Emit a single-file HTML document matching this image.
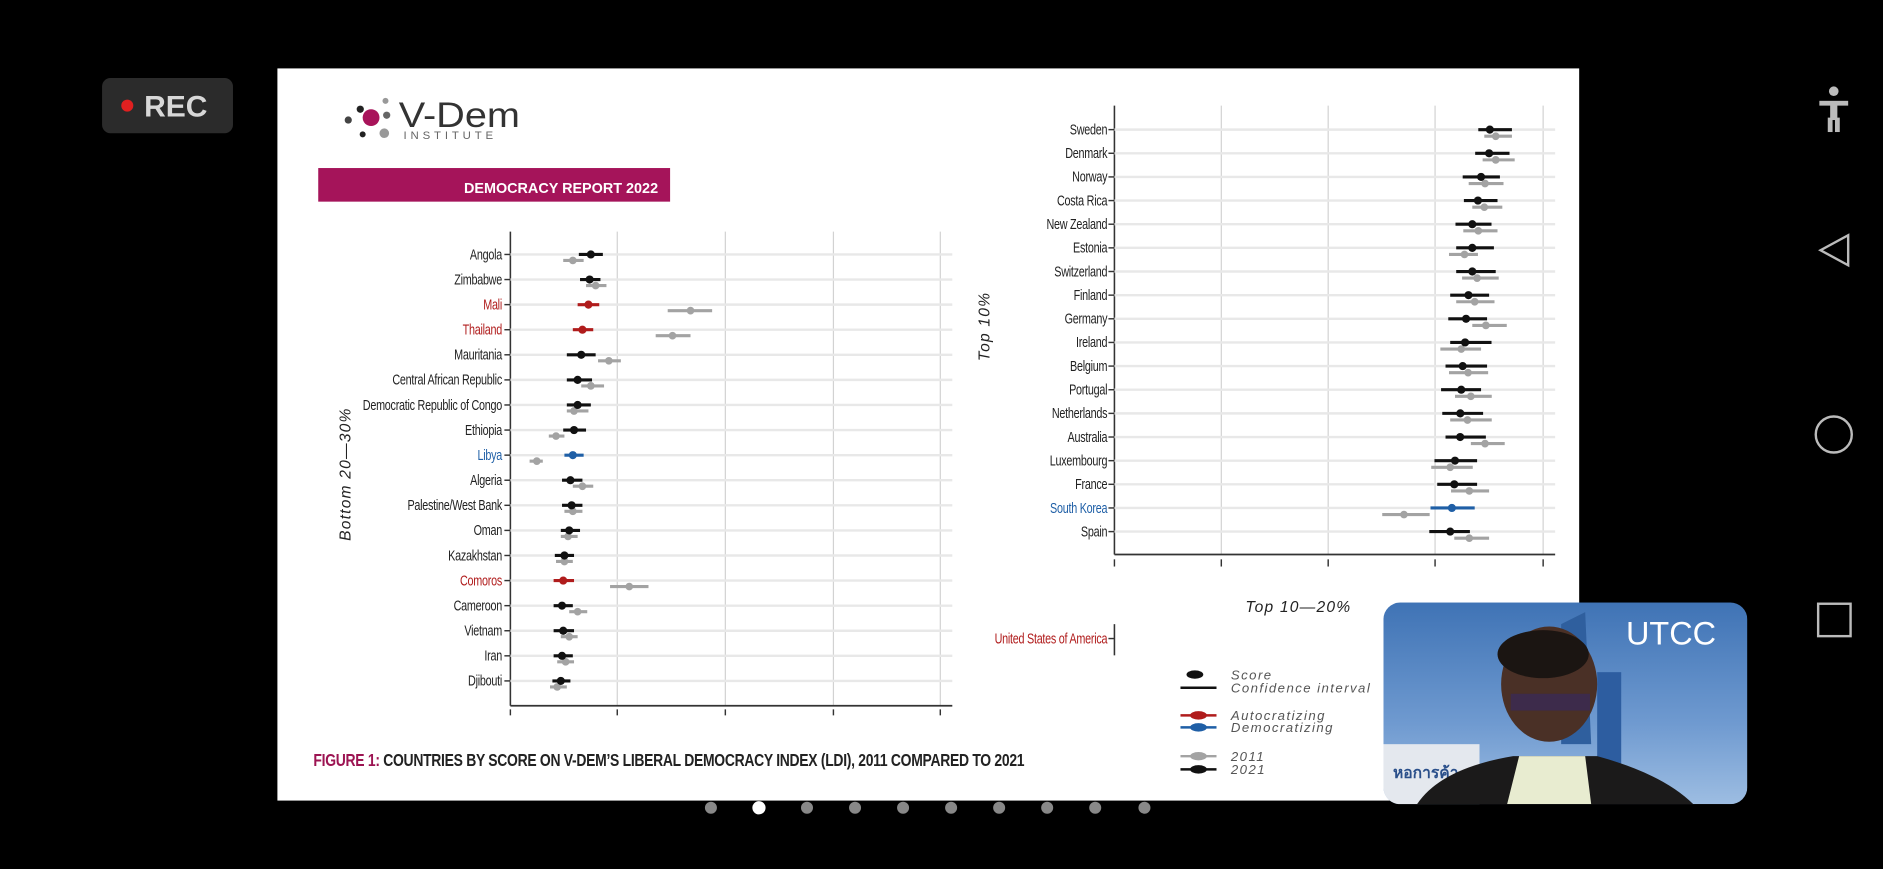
<!DOCTYPE html>
<html><head><meta charset="utf-8"><style>
html,body{margin:0;padding:0;background:#000;width:1883px;height:869px;overflow:hidden}
svg{display:block}
.h{stroke:#e8e8e8;stroke-width:2}
.v{stroke:#d2d2d2;stroke-width:1}
.t{stroke:#333;stroke-width:1.2}
.lb{font-family:"Liberation Sans",sans-serif;font-size:12.5px;fill:#222;text-anchor:end;letter-spacing:-0.3px}
.g{stroke:#a3a3a3;stroke-width:2.6}
.k{stroke:#111;stroke-width:2.6}
.r{stroke:#b01c1c;stroke-width:2.6}
.b{stroke:#1f5fa6;stroke-width:2.6}
</style></head><body>
<svg width="1883" height="869" viewBox="0 0 1568 724" preserveAspectRatio="none" xmlns="http://www.w3.org/2000/svg">
<rect width="1568" height="724" fill="#000"/>
<!-- REC -->
<rect x="85" y="65" width="109" height="46" rx="7" fill="#2b2b2b"/>
<circle cx="106" cy="88" r="5" fill="#e02020"/>
<text x="120" y="97" font-family="Liberation Sans,sans-serif" font-size="25" font-weight="bold" fill="#d8d8d8">REC</text>
<!-- right nav -->
<g fill="none" stroke="#bbb" stroke-width="2">
<polygon points="1539,196 1539,221 1516,208.5"/>
<circle cx="1527" cy="362" r="15"/>
<rect x="1514" y="503" width="27" height="27"/>
</g>
<g fill="#bbb"><circle cx="1527" cy="76" r="4"/><rect x="1515" y="84" width="24" height="4"/><rect x="1524" y="86" width="6" height="14"/><rect x="1522" y="98" width="4" height="12"/><rect x="1528" y="98" width="4" height="12"/></g>
<!-- slide -->
<rect x="231" y="57" width="1084" height="610" fill="#fff"/>
<!-- logo -->
<circle cx="290" cy="100" r="3" fill="#444"/><circle cx="300" cy="91" r="3" fill="#222"/><circle cx="309" cy="98" r="7" fill="#a8135a"/><circle cx="321" cy="84" r="2.5" fill="#999"/><circle cx="322" cy="96" r="3" fill="#666"/><circle cx="302" cy="112" r="2.5" fill="#222"/><circle cx="320" cy="111" r="4" fill="#999"/>
<text x="332" y="106" font-family="Liberation Sans,sans-serif" font-size="29" fill="#333" textLength="101" lengthAdjust="spacingAndGlyphs">V-Dem</text>
<text x="336" y="116" font-family="Liberation Sans,sans-serif" font-size="9.5" letter-spacing="3.2" fill="#666">INSTITUTE</text>
<rect x="265" y="140" width="293" height="28" fill="#a5145a"/>
<text x="548" y="161" text-anchor="end" font-family="Liberation Sans,sans-serif" font-size="12" font-weight="bold" fill="#fff">DEMOCRACY REPORT 2022</text>
<!-- left chart -->
<g class="v"><line x1="514" y1="193" x2="514" y2="588"/><line x1="604" y1="193" x2="604" y2="588"/><line x1="694" y1="193" x2="694" y2="588"/><line x1="783" y1="193" x2="783" y2="588"/></g>
<line x1="425" y1="193" x2="425" y2="588" stroke="#333" stroke-width="1.3"/>
<line x1="425" y1="588" x2="793" y2="588" stroke="#333" stroke-width="1.5"/>
<g class="t"><line x1="425" y1="591" x2="425" y2="596"/><line x1="514" y1="591" x2="514" y2="596"/><line x1="604" y1="591" x2="604" y2="596"/><line x1="694" y1="591" x2="694" y2="596"/><line x1="783" y1="591" x2="783" y2="596"/></g>
<text transform="translate(292,395) rotate(-90)" text-anchor="middle" font-family="Liberation Sans,sans-serif" font-style="italic" font-size="13" letter-spacing="1" fill="#222">Bottom 20—30%</text>
<g>
<g transform="translate(0,212)"><line class="h" x1="425" x2="793"/><line class="t" x1="420" x2="425"/><text class="lb" transform="translate(418,4) scale(0.72,1)">Angola</text><line class="g" x1="469" x2="486" y1="5" y2="5"/><circle cx="477" cy="5" r="3.2" fill="#a3a3a3"/><line class="k" x1="482" x2="502"/><circle cx="492" r="3.4" fill="#111"/></g>
<g transform="translate(0,232.9)"><line class="h" x1="425" x2="793"/><line class="t" x1="420" x2="425"/><text class="lb" transform="translate(418,4) scale(0.72,1)">Zimbabwe</text><line class="g" x1="488" x2="505" y1="5" y2="5"/><circle cx="496" cy="5" r="3.2" fill="#a3a3a3"/><line class="k" x1="483" x2="500"/><circle cx="491" r="3.4" fill="#111"/></g>
<g transform="translate(0,253.8)"><line class="h" x1="425" x2="793"/><line class="t" x1="420" x2="425"/><text class="lb" transform="translate(418,4) scale(0.72,1)" style="fill:#b01c1c">Mali</text><line class="g" x1="556" x2="593" y1="5" y2="5"/><circle cx="575" cy="5" r="3.2" fill="#a3a3a3"/><line class="r" x1="481" x2="499"/><circle cx="490" r="3.4" fill="#b01c1c"/></g>
<g transform="translate(0,274.7)"><line class="h" x1="425" x2="793"/><line class="t" x1="420" x2="425"/><text class="lb" transform="translate(418,4) scale(0.72,1)" style="fill:#b01c1c">Thailand</text><line class="g" x1="546" x2="575" y1="5" y2="5"/><circle cx="560" cy="5" r="3.2" fill="#a3a3a3"/><line class="r" x1="477" x2="494"/><circle cx="485" r="3.4" fill="#b01c1c"/></g>
<g transform="translate(0,295.6)"><line class="h" x1="425" x2="793"/><line class="t" x1="420" x2="425"/><text class="lb" transform="translate(418,4) scale(0.72,1)">Mauritania</text><line class="g" x1="498" x2="517" y1="5" y2="5"/><circle cx="507" cy="5" r="3.2" fill="#a3a3a3"/><line class="k" x1="472" x2="496"/><circle cx="484" r="3.4" fill="#111"/></g>
<g transform="translate(0,316.5)"><line class="h" x1="425" x2="793"/><line class="t" x1="420" x2="425"/><text class="lb" transform="translate(418,4) scale(0.72,1)">Central African Republic</text><line class="g" x1="484" x2="503" y1="5" y2="5"/><circle cx="492" cy="5" r="3.2" fill="#a3a3a3"/><line class="k" x1="472" x2="493"/><circle cx="481" r="3.4" fill="#111"/></g>
<g transform="translate(0,337.4)"><line class="h" x1="425" x2="793"/><line class="t" x1="420" x2="425"/><text class="lb" transform="translate(418,4) scale(0.72,1)">Democratic Republic of Congo</text><line class="g" x1="472" x2="490" y1="5" y2="5"/><circle cx="478" cy="5" r="3.2" fill="#a3a3a3"/><line class="k" x1="472" x2="492"/><circle cx="481" r="3.4" fill="#111"/></g>
<g transform="translate(0,358.3)"><line class="h" x1="425" x2="793"/><line class="t" x1="420" x2="425"/><text class="lb" transform="translate(418,4) scale(0.72,1)">Ethiopia</text><line class="g" x1="457" x2="470" y1="5" y2="5"/><circle cx="463" cy="5" r="3.2" fill="#a3a3a3"/><line class="k" x1="469" x2="488"/><circle cx="478" r="3.4" fill="#111"/></g>
<g transform="translate(0,379.2)"><line class="h" x1="425" x2="793"/><line class="t" x1="420" x2="425"/><text class="lb" transform="translate(418,4) scale(0.72,1)" style="fill:#1f5fa6">Libya</text><line class="g" x1="441" x2="452" y1="5" y2="5"/><circle cx="447" cy="5" r="3.2" fill="#a3a3a3"/><line class="b" x1="470" x2="486"/><circle cx="477" r="3.4" fill="#1f5fa6"/></g>
<g transform="translate(0,400.1)"><line class="h" x1="425" x2="793"/><line class="t" x1="420" x2="425"/><text class="lb" transform="translate(418,4) scale(0.72,1)">Algeria</text><line class="g" x1="477" x2="494" y1="5" y2="5"/><circle cx="485" cy="5" r="3.2" fill="#a3a3a3"/><line class="k" x1="468" x2="485"/><circle cx="475" r="3.4" fill="#111"/></g>
<g transform="translate(0,421)"><line class="h" x1="425" x2="793"/><line class="t" x1="420" x2="425"/><text class="lb" transform="translate(418,4) scale(0.72,1)">Palestine/West Bank</text><line class="g" x1="470" x2="485" y1="5" y2="5"/><circle cx="477" cy="5" r="3.2" fill="#a3a3a3"/><line class="k" x1="468" x2="485"/><circle cx="476" r="3.4" fill="#111"/></g>
<g transform="translate(0,441.9)"><line class="h" x1="425" x2="793"/><line class="t" x1="420" x2="425"/><text class="lb" transform="translate(418,4) scale(0.72,1)">Oman</text><line class="g" x1="467" x2="481" y1="5" y2="5"/><circle cx="473" cy="5" r="3.2" fill="#a3a3a3"/><line class="k" x1="467" x2="483"/><circle cx="474" r="3.4" fill="#111"/></g>
<g transform="translate(0,462.8)"><line class="h" x1="425" x2="793"/><line class="t" x1="420" x2="425"/><text class="lb" transform="translate(418,4) scale(0.72,1)">Kazakhstan</text><line class="g" x1="463" x2="477" y1="5" y2="5"/><circle cx="470" cy="5" r="3.2" fill="#a3a3a3"/><line class="k" x1="462" x2="478"/><circle cx="470" r="3.4" fill="#111"/></g>
<g transform="translate(0,483.7)"><line class="h" x1="425" x2="793"/><line class="t" x1="420" x2="425"/><text class="lb" transform="translate(418,4) scale(0.72,1)" style="fill:#b01c1c">Comoros</text><line class="g" x1="508" x2="540" y1="5" y2="5"/><circle cx="524" cy="5" r="3.2" fill="#a3a3a3"/><line class="r" x1="461" x2="478"/><circle cx="469" r="3.4" fill="#b01c1c"/></g>
<g transform="translate(0,504.6)"><line class="h" x1="425" x2="793"/><line class="t" x1="420" x2="425"/><text class="lb" transform="translate(418,4) scale(0.72,1)">Cameroon</text><line class="g" x1="474" x2="489" y1="5" y2="5"/><circle cx="481" cy="5" r="3.2" fill="#a3a3a3"/><line class="k" x1="461" x2="477"/><circle cx="468" r="3.4" fill="#111"/></g>
<g transform="translate(0,525.5)"><line class="h" x1="425" x2="793"/><line class="t" x1="420" x2="425"/><text class="lb" transform="translate(418,4) scale(0.72,1)">Vietnam</text><line class="g" x1="467" x2="481" y1="5" y2="5"/><circle cx="474" cy="5" r="3.2" fill="#a3a3a3"/><line class="k" x1="461" x2="478"/><circle cx="469" r="3.4" fill="#111"/></g>
<g transform="translate(0,546.4)"><line class="h" x1="425" x2="793"/><line class="t" x1="420" x2="425"/><text class="lb" transform="translate(418,4) scale(0.72,1)">Iran</text><line class="g" x1="464" x2="478" y1="5" y2="5"/><circle cx="471" cy="5" r="3.2" fill="#a3a3a3"/><line class="k" x1="461" x2="477"/><circle cx="468" r="3.4" fill="#111"/></g>
<g transform="translate(0,567.3)"><line class="h" x1="425" x2="793"/><line class="t" x1="420" x2="425"/><text class="lb" transform="translate(418,4) scale(0.72,1)">Djibouti</text><line class="g" x1="458" x2="472" y1="5" y2="5"/><circle cx="464" cy="5" r="3.2" fill="#a3a3a3"/><line class="k" x1="460" x2="475"/><circle cx="467" r="3.4" fill="#111"/></g>
</g>
<!-- right chart -->
<g class="v"><line x1="1017" y1="88" x2="1017" y2="462"/><line x1="1106" y1="88" x2="1106" y2="462"/><line x1="1195" y1="88" x2="1195" y2="462"/><line x1="1285" y1="88" x2="1285" y2="462"/></g>
<line x1="928" y1="88" x2="928" y2="462" stroke="#333" stroke-width="1.3"/>
<line x1="928" y1="462" x2="1295" y2="462" stroke="#333" stroke-width="1.5"/>
<g class="t"><line x1="928" y1="466" x2="928" y2="472"/><line x1="1017" y1="466" x2="1017" y2="472"/><line x1="1106" y1="466" x2="1106" y2="472"/><line x1="1195" y1="466" x2="1195" y2="472"/><line x1="1285" y1="466" x2="1285" y2="472"/></g>
<text transform="translate(824,272) rotate(-90)" text-anchor="middle" font-family="Liberation Sans,sans-serif" font-style="italic" font-size="13" letter-spacing="1" fill="#222">Top 10%</text>
<g>
<g transform="translate(0,108)"><line class="h" x1="928" x2="1295"/><line class="t" x1="923" x2="928"/><text class="lb" transform="translate(922,4) scale(0.72,1)">Sweden</text><line class="g" x1="1236" x2="1259" y1="5.5" y2="5.5"/><circle cx="1245.5" cy="5.5" r="3.2" fill="#a3a3a3"/><line class="k" x1="1231" x2="1259"/><circle cx="1240.6" r="3.4" fill="#111"/></g>
<g transform="translate(0,127.7)"><line class="h" x1="928" x2="1295"/><line class="t" x1="923" x2="928"/><text class="lb" transform="translate(922,4) scale(0.72,1)">Denmark</text><line class="g" x1="1234.6" x2="1261.3" y1="5.5" y2="5.5"/><circle cx="1245.5" cy="5.5" r="3.2" fill="#a3a3a3"/><line class="k" x1="1228.4" x2="1257"/><circle cx="1240" r="3.4" fill="#111"/></g>
<g transform="translate(0,147.4)"><line class="h" x1="928" x2="1295"/><line class="t" x1="923" x2="928"/><text class="lb" transform="translate(922,4) scale(0.72,1)">Norway</text><line class="g" x1="1223" x2="1252" y1="5.5" y2="5.5"/><circle cx="1236.6" cy="5.5" r="3.2" fill="#a3a3a3"/><line class="k" x1="1218" x2="1249"/><circle cx="1233.3" r="3.4" fill="#111"/></g>
<g transform="translate(0,167.1)"><line class="h" x1="928" x2="1295"/><line class="t" x1="923" x2="928"/><text class="lb" transform="translate(922,4) scale(0.72,1)">Costa Rica</text><line class="g" x1="1226" x2="1251" y1="5.5" y2="5.5"/><circle cx="1236" cy="5.5" r="3.2" fill="#a3a3a3"/><line class="k" x1="1219" x2="1247"/><circle cx="1230.7" r="3.4" fill="#111"/></g>
<g transform="translate(0,186.8)"><line class="h" x1="928" x2="1295"/><line class="t" x1="923" x2="928"/><text class="lb" transform="translate(922,4) scale(0.72,1)">New Zealand</text><line class="g" x1="1218.5" x2="1247" y1="5.5" y2="5.5"/><circle cx="1231" cy="5.5" r="3.2" fill="#a3a3a3"/><line class="k" x1="1212" x2="1242"/><circle cx="1226" r="3.4" fill="#111"/></g>
<g transform="translate(0,206.5)"><line class="h" x1="928" x2="1295"/><line class="t" x1="923" x2="928"/><text class="lb" transform="translate(922,4) scale(0.72,1)">Estonia</text><line class="g" x1="1206.6" x2="1230.7" y1="5.5" y2="5.5"/><circle cx="1219.5" cy="5.5" r="3.2" fill="#a3a3a3"/><line class="k" x1="1212.6" x2="1244"/><circle cx="1226" r="3.4" fill="#111"/></g>
<g transform="translate(0,226.2)"><line class="h" x1="928" x2="1295"/><line class="t" x1="923" x2="928"/><text class="lb" transform="translate(922,4) scale(0.72,1)">Switzerland</text><line class="g" x1="1217.5" x2="1248" y1="5.5" y2="5.5"/><circle cx="1230" cy="5.5" r="3.2" fill="#a3a3a3"/><line class="k" x1="1212.6" x2="1245.5"/><circle cx="1226" r="3.4" fill="#111"/></g>
<g transform="translate(0,245.9)"><line class="h" x1="928" x2="1295"/><line class="t" x1="923" x2="928"/><text class="lb" transform="translate(922,4) scale(0.72,1)">Finland</text><line class="g" x1="1212.6" x2="1244.5" y1="5.5" y2="5.5"/><circle cx="1228" cy="5.5" r="3.2" fill="#a3a3a3"/><line class="k" x1="1207.6" x2="1240"/><circle cx="1222.8" r="3.4" fill="#111"/></g>
<g transform="translate(0,265.6)"><line class="h" x1="928" x2="1295"/><line class="t" x1="923" x2="928"/><text class="lb" transform="translate(922,4) scale(0.72,1)">Germany</text><line class="g" x1="1226" x2="1254.7" y1="5.5" y2="5.5"/><circle cx="1237.3" cy="5.5" r="3.2" fill="#a3a3a3"/><line class="k" x1="1206" x2="1238.3"/><circle cx="1220.8" r="3.4" fill="#111"/></g>
<g transform="translate(0,285.3)"><line class="h" x1="928" x2="1295"/><line class="t" x1="923" x2="928"/><text class="lb" transform="translate(922,4) scale(0.72,1)">Ireland</text><line class="g" x1="1199.4" x2="1233.3" y1="5.5" y2="5.5"/><circle cx="1216.8" cy="5.5" r="3.2" fill="#a3a3a3"/><line class="k" x1="1207.6" x2="1242"/><circle cx="1220" r="3.4" fill="#111"/></g>
<g transform="translate(0,305)"><line class="h" x1="928" x2="1295"/><line class="t" x1="923" x2="928"/><text class="lb" transform="translate(922,4) scale(0.72,1)">Belgium</text><line class="g" x1="1206.6" x2="1239.2" y1="5.5" y2="5.5"/><circle cx="1222.5" cy="5.5" r="3.2" fill="#a3a3a3"/><line class="k" x1="1203.7" x2="1238.3"/><circle cx="1218" r="3.4" fill="#111"/></g>
<g transform="translate(0,324.7)"><line class="h" x1="928" x2="1295"/><line class="t" x1="923" x2="928"/><text class="lb" transform="translate(922,4) scale(0.72,1)">Portugal</text><line class="g" x1="1211.6" x2="1242.2" y1="5.5" y2="5.5"/><circle cx="1224.8" cy="5.5" r="3.2" fill="#a3a3a3"/><line class="k" x1="1200" x2="1233.3"/><circle cx="1216.8" r="3.4" fill="#111"/></g>
<g transform="translate(0,344.4)"><line class="h" x1="928" x2="1295"/><line class="t" x1="923" x2="928"/><text class="lb" transform="translate(922,4) scale(0.72,1)">Netherlands</text><line class="g" x1="1207.6" x2="1242.2" y1="5.5" y2="5.5"/><circle cx="1222" cy="5.5" r="3.2" fill="#a3a3a3"/><line class="k" x1="1201" x2="1235"/><circle cx="1216" r="3.4" fill="#111"/></g>
<g transform="translate(0,364.1)"><line class="h" x1="928" x2="1295"/><line class="t" x1="923" x2="928"/><text class="lb" transform="translate(922,4) scale(0.72,1)">Australia</text><line class="g" x1="1224.8" x2="1253" y1="5.5" y2="5.5"/><circle cx="1236.6" cy="5.5" r="3.2" fill="#a3a3a3"/><line class="k" x1="1203.7" x2="1237.3"/><circle cx="1215.9" r="3.4" fill="#111"/></g>
<g transform="translate(0,383.8)"><line class="h" x1="928" x2="1295"/><line class="t" x1="923" x2="928"/><text class="lb" transform="translate(922,4) scale(0.72,1)">Luxembourg</text><line class="g" x1="1191.8" x2="1226.4" y1="5.5" y2="5.5"/><circle cx="1207.6" cy="5.5" r="3.2" fill="#a3a3a3"/><line class="k" x1="1194.5" x2="1230"/><circle cx="1211.6" r="3.4" fill="#111"/></g>
<g transform="translate(0,403.5)"><line class="h" x1="928" x2="1295"/><line class="t" x1="923" x2="928"/><text class="lb" transform="translate(922,4) scale(0.72,1)">France</text><line class="g" x1="1208.3" x2="1240" y1="5.5" y2="5.5"/><circle cx="1223.5" cy="5.5" r="3.2" fill="#a3a3a3"/><line class="k" x1="1196.8" x2="1230"/><circle cx="1211" r="3.4" fill="#111"/></g>
<g transform="translate(0,423.2)"><line class="h" x1="928" x2="1295"/><line class="t" x1="923" x2="928"/><text class="lb" transform="translate(922,4) scale(0.72,1)" style="fill:#1f5fa6">South Korea</text><line class="g" x1="1151" x2="1190.5" y1="5.5" y2="5.5"/><circle cx="1169.1" cy="5.5" r="3.2" fill="#a3a3a3"/><line class="b" x1="1191.2" x2="1228"/><circle cx="1209" r="3.4" fill="#1f5fa6"/></g>
<g transform="translate(0,442.9)"><line class="h" x1="928" x2="1295"/><line class="t" x1="923" x2="928"/><text class="lb" transform="translate(922,4) scale(0.72,1)">Spain</text><line class="g" x1="1211" x2="1240" y1="5.5" y2="5.5"/><circle cx="1223.5" cy="5.5" r="3.2" fill="#a3a3a3"/><line class="k" x1="1190.2" x2="1224"/><circle cx="1207.6" r="3.4" fill="#111"/></g>
</g>
<!-- top 10-20 -->
<text x="1037" y="510" font-family="Liberation Sans,sans-serif" font-style="italic" font-size="13" letter-spacing="1" fill="#222">Top 10—20%</text>
<line x1="928" y1="520" x2="928" y2="546" stroke="#333" stroke-width="1.3"/>
<line class="t" x1="923" y1="532" x2="928" y2="532"/>
<text class="lb" transform="translate(922,536) scale(0.72,1)" style="fill:#b01c1c">United States of America</text>
<!-- legend -->
<g font-family="Liberation Sans,sans-serif" font-style="italic" font-size="11" letter-spacing="1.2" fill="#555">
<ellipse cx="995" cy="562" rx="7" ry="3.5" fill="#111"/><text x="1025" y="566">Score</text>
<line x1="983" y1="573" x2="1013" y2="573" stroke="#111" stroke-width="2"/><text x="1025" y="577">Confidence interval</text>
<line x1="983" y1="596" x2="1013" y2="596" stroke="#b01c1c" stroke-width="2"/><ellipse cx="998" cy="596" rx="7" ry="3.5" fill="#b01c1c"/><text x="1025" y="600">Autocratizing</text>
<line x1="983" y1="606" x2="1013" y2="606" stroke="#1f5fa6" stroke-width="2"/><ellipse cx="998" cy="606" rx="7" ry="3.5" fill="#1f5fa6"/><text x="1025" y="610">Democratizing</text>
<line x1="983" y1="630" x2="1013" y2="630" stroke="#a3a3a3" stroke-width="2"/><ellipse cx="998" cy="630" rx="7" ry="3.5" fill="#a3a3a3"/><text x="1025" y="634">2011</text>
<line x1="983" y1="641" x2="1013" y2="641" stroke="#111" stroke-width="2"/><ellipse cx="998" cy="641" rx="7" ry="3.5" fill="#111"/><text x="1025" y="645">2021</text>
</g>
<!-- caption -->
<text transform="translate(261,638) scale(0.8,1)" font-family="Liberation Sans,sans-serif" font-size="14.5" font-weight="bold" fill="#222" letter-spacing="-0.3"><tspan fill="#9c1452">FIGURE 1:</tspan> COUNTRIES BY SCORE ON V-DEM’S LIBERAL DEMOCRACY INDEX (LDI), 2011 COMPARED TO 2021</text>
<!-- webcam -->
<defs>
<linearGradient id="sky" x1="0" y1="0" x2="0" y2="1"><stop offset="0" stop-color="#3f73b5"/><stop offset="0.6" stop-color="#6f9ad0"/><stop offset="1" stop-color="#9dbde2"/></linearGradient>
<clipPath id="cam"><rect x="1152" y="502" width="303" height="168" rx="14"/></clipPath>
</defs>
<g clip-path="url(#cam)">
<rect x="1152" y="502" width="303" height="168" fill="url(#sky)"/>
<polygon points="1300,520 1320,510 1325,620 1300,620" fill="#2f5f9e"/>
<rect x="1330" y="560" width="20" height="90" fill="#2d5da0"/>
<rect x="1152" y="620" width="80" height="50" fill="#e4e8ee"/>
<text x="1160" y="648" font-family="Liberation Sans,sans-serif" font-size="13" font-weight="bold" fill="#2a4f8a">หอการค้า</text>
<ellipse cx="1290" cy="570" rx="40" ry="48" fill="#4a3026"/>
<ellipse cx="1285" cy="545" rx="38" ry="20" fill="#1b1512"/>
<rect x="1258" y="578" width="66" height="14" fill="#3a2b55" opacity="0.8"/>
<path d="M1180 670 Q1200 640 1260 630 L1330 630 Q1385 645 1410 670 Z" fill="#1b1a1a"/>
<path d="M1255 670 L1265 630 L1320 630 L1325 670 Z" fill="#e8ecd0"/>
<text x="1354" y="537" font-family="Liberation Sans,sans-serif" font-size="27" fill="#fff">UTCC</text>
</g>
<!-- pagination -->
<g fill="#888"><circle cx="592" cy="673" r="5"/><circle cx="672" cy="673" r="5"/><circle cx="712" cy="673" r="5"/><circle cx="752" cy="673" r="5"/><circle cx="792" cy="673" r="5"/><circle cx="832" cy="673" r="5"/><circle cx="872" cy="673" r="5"/><circle cx="912" cy="673" r="5"/><circle cx="953" cy="673" r="5"/></g>
<circle cx="632" cy="673" r="5.5" fill="#fff"/>
</svg>
</body></html>
